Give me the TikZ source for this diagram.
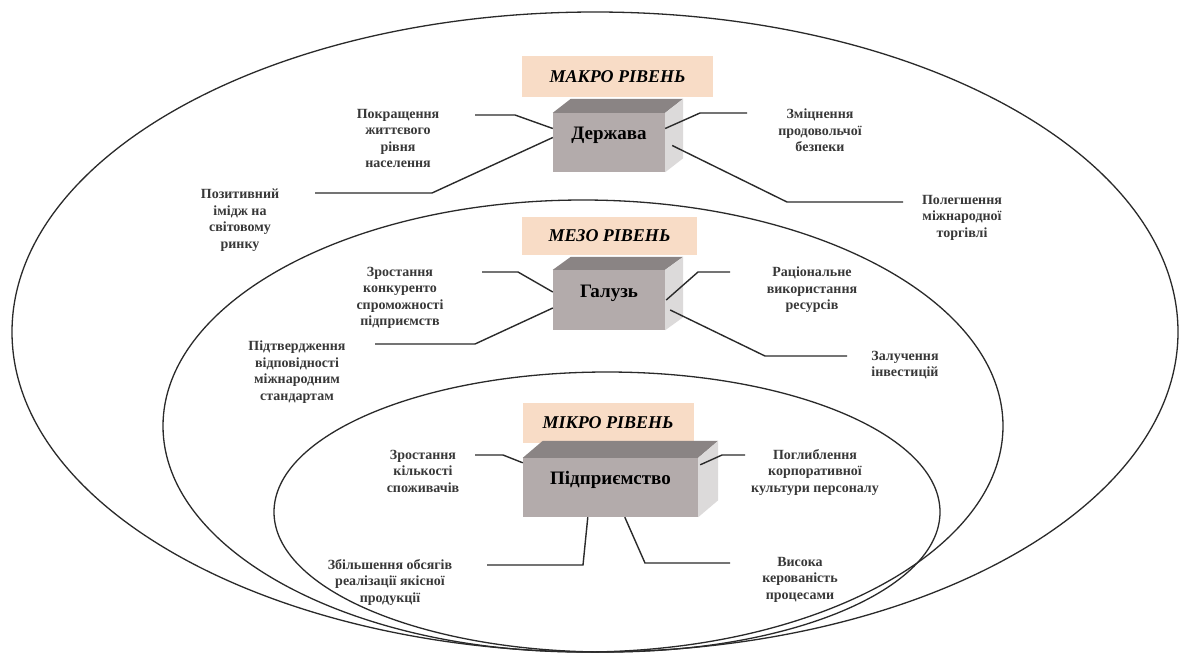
\documentclass[tikz,border=0pt]{standalone}
\usepackage{fontspec}
\setmainfont{Liberation Serif}
\usetikzlibrary{calc}
\definecolor{peach}{HTML}{F8DCC6}
\definecolor{boxfront}{HTML}{B3ABAB}
\definecolor{boxtop}{HTML}{8A8484}
\definecolor{boxside}{HTML}{DCDADA}
\definecolor{linec}{HTML}{2A2A2A}
\newcommand\boxfaces[3]{%
  \fill[boxtop] (#1.north west) -- ++(#2,-#3) -- ($(#1.north east)+(#2,-#3)$) -- (#1.north east) -- cycle;
  \fill[boxside] (#1.north east) -- ++(#2,-#3) -- ($(#1.south east)+(#2,-#3)$) -- (#1.south east) -- cycle;
}
\begin{document}
\begin{tikzpicture}[x=1pt,y=-1pt,
  oval/.style={draw=linec,line width=1.3pt},
  conn/.style={draw=linec,line width=1.4pt},
  lvl/.style={fill=peach,inner sep=0pt,font=\bfseries\itshape\fontsize{18}{21}\selectfont},
  front/.style={fill=boxfront,inner sep=0pt,font=\bfseries\fontsize{19}{22}\selectfont,text height=14pt,text depth=20pt},
  lab/.style={align=center,inner sep=0pt,anchor=north,text=black!78,font=\bfseries\fontsize{14}{16.5}\selectfont}]
\useasboundingbox[fill=white] (0,0) rectangle (1189,657);
% ellipses
\draw[oval] (595,332) ellipse [x radius=583pt, y radius=320pt];
\draw[oval] (583,426) ellipse [x radius=420pt, y radius=226pt];
\draw[oval] (607,512) ellipse [x radius=333pt, y radius=140pt];
% level labels
\node[lvl,minimum width=191pt,minimum height=41pt] (makro) at (617.5,76.5) {МАКРО РІВЕНЬ};
\node[lvl,minimum width=175pt,minimum height=38pt] (mezo) at (609.5,236) {МЕЗО РІВЕНЬ};
\node[lvl,minimum width=171pt,minimum height=40pt] (mikro) at (608,423) {МІКРО РІВЕНЬ};
% boxes
\node[front,minimum width=112pt,minimum height=59pt] (d) at (609,142.5) {Держава};
\boxfaces{d}{18}{14}
\node[front,minimum width=112pt,minimum height=60pt] (g) at (609,300) {Галузь};
\boxfaces{g}{18}{13}
\node[front,minimum width=175pt,minimum height=59pt] (p) at (610.5,487.5) {Підприємство};
\boxfaces{p}{20}{17}
% labels
\node[lab] (t1) at (398,109) {Покращення\\життєвого\\рівня\\населення};
\node[lab] (t2) at (240,189) {Позитивний\\імідж на\\світовому\\ринку};
\node[lab] (t3) at (820,109) {Зміцнення\\продовольчої\\безпеки};
\node[lab] (t4) at (962,195) {Полегшення\\міжнародної\\торгівлі};
\node[lab] (t5) at (400,267) {Зростання\\конкуренто\\спроможності\\підприємств};
\node[lab] (t6) at (297,341) {Підтвердження\\відповідності\\міжнародним\\стандартам};
\node[lab] (t7) at (812,267) {Раціональне\\використання\\ресурсів};
\node[lab] (t8) at (905,351) {Залучення\\інвестицій};
\node[lab] (t9) at (423,450) {Зростання\\кількості\\споживачів};
\node[lab] (t10) at (815,449) {Поглиблення\\корпоративної\\культури персоналу};
\node[lab] (t11) at (390,559) {Збільшення обсягів\\реалізації якісної\\продукції};
\node[lab] (t12) at (800,557) {Висока\\керованість\\процесами};
% connector ends
\coordinate (a1) at (515,115); \coordinate (e1) at (475,115);
\coordinate (a2) at (432,193); \coordinate (e2) at (315,193);
\coordinate (a3) at (700,113); \coordinate (e3) at (747,113);
\coordinate (a4) at (787,202); \coordinate (e4) at (903,202);
\coordinate (a5) at (518,272); \coordinate (e5) at (482,272);
\coordinate (a6) at (475,344); \coordinate (e6) at (375,344);
\coordinate (a7) at (698,272); \coordinate (e7) at (730,272);
\coordinate (a8) at (765,356); \coordinate (e8) at (847,356);
\coordinate (a9) at (503,455); \coordinate (e9) at (475,455);
\coordinate (a10) at (722,455); \coordinate (e10) at (745,455);
\coordinate (a11) at (583,565); \coordinate (e11) at (487,565);
\coordinate (a12) at (645,563); \coordinate (e12) at (730,563);
% connectors
\draw[conn] ($(d.west)+(0,-14)$) -- (a1) -- (e1);
\draw[conn] ($(d.west)+(0,-5)$) -- (a2) -- (e2);
\draw[conn] ($(d.east)+(0,-14)$) -- (a3) -- (e3);
\draw[conn] ($(d.east)+(7,3)$) -- (a4) -- (e4);
\draw[conn] ($(g.west)+(0,-8)$) -- (a5) -- (e5);
\draw[conn] ($(g.west)+(0,8)$) -- (a6) -- (e6);
\draw[conn] ($(g.east)+(1,0)$) -- (a7) -- (e7);
\draw[conn] ($(g.east)+(5,10)$) -- (a8) -- (e8);
\draw[conn] ($(p.north west)+(0,5)$) -- (a9) -- (e9);
\draw[conn] ($(p.north east)+(2,7)$) -- (a10) -- (e10);
\draw[conn] ($(p.south west)+(65,0)$) -- (a11) -- (e11);
\draw[conn] ($(p.south west)+(102,0)$) -- (a12) -- (e12);
\end{tikzpicture}
\end{document}
